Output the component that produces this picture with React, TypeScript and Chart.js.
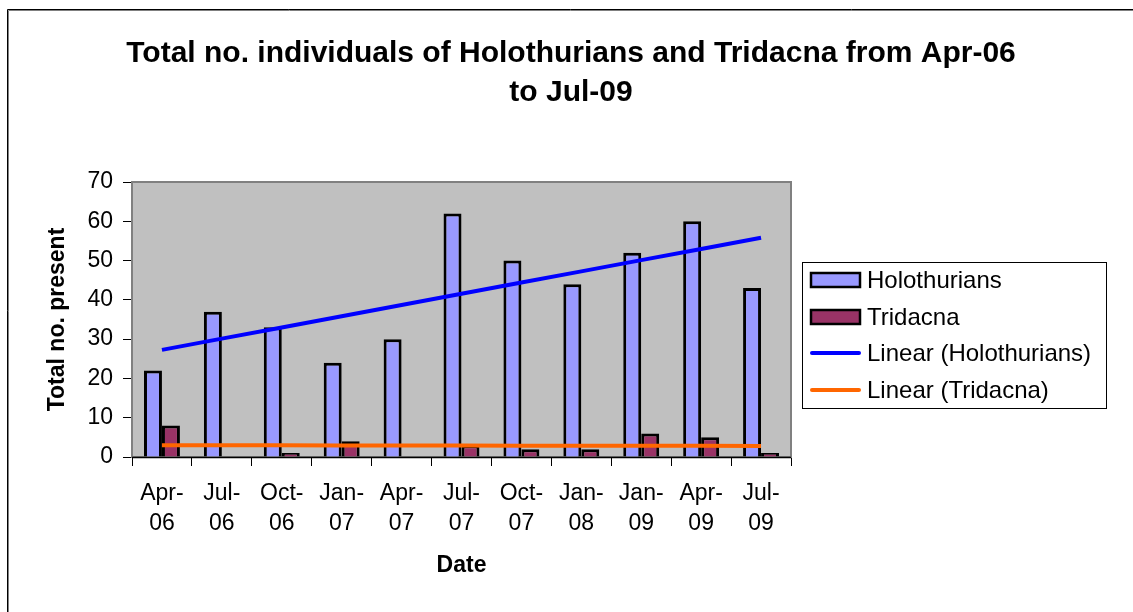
import React, { useEffect, useRef } from "react";
import { Chart, registerables } from "chart.js";

Chart.register(...registerables);

const categories: string[][] = [
  ["Apr-", "06"], ["Jul-", "06"], ["Oct-", "06"], ["Jan-", "07"], ["Apr-", "07"],
  ["Jul-", "07"], ["Oct-", "07"], ["Jan-", "08"], ["Jan-", "09"], ["Apr-", "09"], ["Jul-", "09"],
];
const holothurians: number[] = [22, 37, 33, 24, 30, 62, 50, 44, 52, 60, 43];
const tridacna: number[] = [8, 0, 1, 4, 0, 3, 2, 2, 6, 5, 1];
const yTicks: number[] = [0, 10, 20, 30, 40, 50, 60, 70];
const titleLines: string[] = [
  "Total no. individuals of Holothurians and Tridacna from Apr-06",
  "to Jul-09",
];

// Excel "Linear" trendline = least-squares fit of the series
function linearTrend(vals: number[]): number[] {
  const n = vals.length;
  const mx = (n - 1) / 2;
  const my = vals.reduce((a, b) => a + b, 0) / n;
  let sxy = 0, sxx = 0;
  vals.forEach((v, i) => { sxy += (i - mx) * (v - my); sxx += (i - mx) * (i - mx); });
  const slope = sxy / sxx;
  return vals.map((_, i) => my + slope * (i - mx));
}

const FONT = "'Liberation Sans', Arial, sans-serif";
const HOLO_COLOR = "#9999FF";
const TRI_COLOR = "#993366";
const HOLO_TREND = "#0000FF";
const TRI_TREND = "#FF6600";

const decorPlugin = {
  id: "decor",
  beforeDraw(chart: any) {
    const { ctx, chartArea: a } = chart;
    ctx.save();
    ctx.fillStyle = "#FFFFFF";
    ctx.fillRect(0, 0, chart.width, chart.height);
    ctx.fillStyle = "#C0C0C0";
    ctx.fillRect(a.left, a.top, a.right - a.left, a.bottom - a.top);
    ctx.restore();
  },
  beforeDatasetsDraw(chart: any) {
    const { ctx, chartArea: a } = chart;
    ctx.save();
    ctx.strokeStyle = "#808080";
    ctx.lineWidth = 2;
    ctx.strokeRect(a.left, a.top, a.right - a.left, a.bottom - a.top);
    ctx.strokeStyle = "#000000";
    ctx.lineWidth = 1.5;
    ctx.beginPath();
    ctx.moveTo(a.left, a.bottom + 0.5);
    ctx.lineTo(a.right, a.bottom + 0.5);
    ctx.stroke();
    ctx.restore();
  },
  afterDraw(chart: any) {
    const { ctx } = chart;
    ctx.save();
    // outer chart frame
    ctx.strokeStyle = "#000000";
    ctx.lineWidth = 1;
    ctx.beginPath();
    ctx.moveTo(7.5, chart.height);
    ctx.lineTo(7.5, 9.5);
    ctx.lineTo(chart.width, 9.5);
    ctx.stroke();
    ctx.strokeStyle = "#808080";
    ctx.beginPath();
    ctx.moveTo(8.5, chart.height);
    ctx.lineTo(8.5, 10.5);
    ctx.lineTo(chart.width, 10.5);
    ctx.stroke();

    // title
    ctx.fillStyle = "#000000";
    ctx.font = `bold 30px ${FONT}`;
    ctx.textAlign = "center";
    ctx.textBaseline = "middle";
    ctx.fillText(titleLines[0], 571, 54);
    ctx.fillText(titleLines[1], 571, 93);

    // legend
    const lx = 802.5, ly = 262.5, lw = 304, lh = 146;
    ctx.fillStyle = "#FFFFFF";
    ctx.fillRect(lx, ly, lw, lh);
    ctx.strokeStyle = "#000000";
    ctx.lineWidth = 1;
    ctx.strokeRect(lx, ly, lw, lh);
    const items = chart.data.datasets;
    const ys = [280, 317, 353, 390];
    ctx.font = `24px ${FONT}`;
    ctx.textAlign = "left";
    items.forEach((ds: any, i: number) => {
      const y = ys[i];
      if (ds.type === "line") {
        ctx.strokeStyle = ds.borderColor;
        ctx.lineWidth = 4;
        ctx.lineCap = "round";
        ctx.beginPath();
        ctx.moveTo(812, y);
        ctx.lineTo(859, y);
        ctx.stroke();
      } else {
        ctx.fillStyle = ds.backgroundColor;
        ctx.fillRect(811, y - 7, 49, 14);
        ctx.strokeStyle = "#000000";
        ctx.lineWidth = 2.5;
        ctx.strokeRect(811, y - 7, 49, 14);
      }
      ctx.fillStyle = "#000000";
      ctx.fillText(ds.label, 867, y + 1);
    });
    ctx.restore();
  },
};

export default function App() {
  const ref = useRef<HTMLCanvasElement | null>(null);
  useEffect(() => {
    if (!ref.current) return;
    const chart = new Chart(ref.current, {
      type: "bar",
      data: {
        labels: categories,
        datasets: [
          {
            type: "bar",
            label: "Holothurians",
            data: holothurians,
            backgroundColor: HOLO_COLOR,
            borderColor: "#000000",
            borderWidth: 3,
            order: 1,
          },
          {
            type: "bar",
            label: "Tridacna",
            data: tridacna,
            backgroundColor: TRI_COLOR,
            borderColor: "#000000",
            borderWidth: 3,
            order: 1,
          },
          {
            type: "line",
            label: "Linear (Holothurians)",
            data: linearTrend(holothurians),
            borderColor: HOLO_TREND,
            borderWidth: 4,
            pointRadius: 0,
            fill: false,
            order: 0,
          },
          {
            type: "line",
            label: "Linear (Tridacna)",
            data: linearTrend(tridacna),
            borderColor: TRI_TREND,
            borderWidth: 4,
            pointRadius: 0,
            fill: false,
            order: 0,
          },
        ] as any,
      },
      options: {
        animation: false,
        responsive: false,
        devicePixelRatio: 1,
        layout: { padding: { top: 182, right: 342, bottom: 0, left: 0 } },
        datasets: { bar: { categoryPercentage: 0.6, barPercentage: 1 } } as any,
        plugins: { legend: { display: false }, title: { display: false }, tooltip: { enabled: false } },
        scales: {
          x: {
            grid: { display: true, drawOnChartArea: false, drawTicks: true, tickLength: 9, color: "#000000", lineWidth: 1, offset: true },
            border: { display: false },
            ticks: { color: "#000000", font: { family: FONT, size: 23, lineHeight: 1.3 }, padding: 13, maxRotation: 0, autoSkip: false },
            title: { display: true, text: "Date", color: "#000000", font: { family: FONT, size: 23, weight: "bold" }, padding: { top: 0, bottom: 33 } },
            afterFit: (s: any) => { s.height = 155; },
          },
          y: {
            min: 0,
            max: 70,
            afterBuildTicks: (s: any) => { s.ticks = yTicks.map((v) => ({ value: v })); },
            grid: { display: true, drawOnChartArea: false, drawTicks: true, tickLength: 9, color: "#000000", lineWidth: 1 },
            border: { display: true, color: "#808080", width: 2 },
            ticks: { color: "#000000", font: { family: FONT, size: 23 }, padding: 10 },
            title: { display: true, text: "Total no. present", color: "#000000", font: { family: FONT, size: 23, weight: "bold" }, padding: { top: 44, bottom: 0 } },
            afterFit: (s: any) => { s.width = 132; },
          },
        },
      } as any,
      plugins: [decorPlugin],
    });
    return () => chart.destroy();
  }, []);
  return (
    <div style={{ position: "fixed", left: 0, top: 0, width: 1133, height: 612, background: "#fff" }}>
      <canvas ref={ref} width={1133} height={612} style={{ display: "block" }} />
    </div>
  );
}
